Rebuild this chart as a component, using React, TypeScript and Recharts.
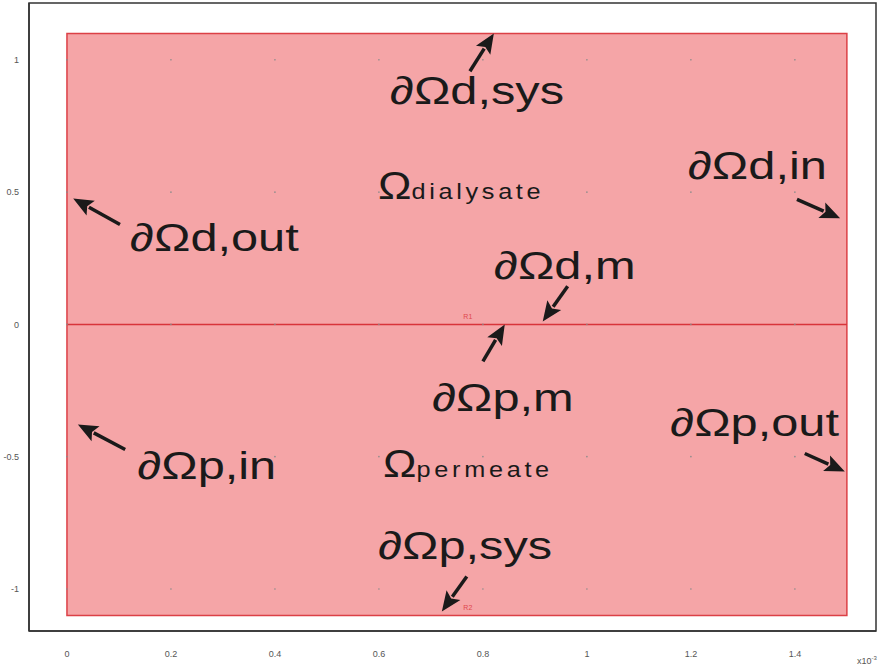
import {
  ScatterChart,
  Scatter,
  XAxis,
  YAxis,
  ReferenceArea,
  ReferenceLine
} from "recharts";

// axis ticks (x in units of 1e-3)
const xTicks = [0, 0.2, 0.4, 0.6, 0.8, 1, 1.2, 1.4];
const yTicks = [-1, -0.5, 0, 0.5, 1];
const xDomain = [-0.073, 1.556];
const yDomain = [-1.159, 1.215];

// geometry: two rectangles R1 (dialysate) and R2 (permeate), split by the membrane at y = 0
const rectX = [0, 1.5];
const rectY = [-1.1, 1.1];
const membraneY = 0;

// boundary labels
const boundaryNames = ["∂Ωd,sys", "∂Ωd,in", "∂Ωd,out", "∂Ωd,m", "∂Ωp,m", "∂Ωp,out", "∂Ωp,in", "∂Ωp,sys"];
const boundaryX = [0.621, 1.194, 0.121, 0.821, 0.702, 1.16, 0.135, 0.598];
const boundaryY = [0.832, 0.548, 0.276, 0.17, -0.329, -0.423, -0.586, -0.888];

// arrows, tail -> head, same order as the labels
const arrowTailX = [0.775, 1.404, 0.102, 0.963, 0.8, 1.419, 0.112, 0.769];
const arrowTailY = [0.957, 0.473, 0.378, 0.144, -0.14, -0.488, -0.473, -0.953];
const arrowHeadX = [0.821, 1.487, 0.012, 0.915, 0.842, 1.496, 0.021, 0.721];
const arrowHeadY = [1.1, 0.401, 0.476, 0.011, 0.0, -0.556, -0.378, -1.085];

// domain labels
const domainNames = ["dialysate", "permeate"];
const domainX = [0.598, 0.608];
const domainY = [0.473, -0.575];

// region tags
const regionTags = ["R1", "R2"];
const regionTagX = [0.771, 0.771];
const regionTagY = [0.019, -1.081];

const labelData = boundaryNames.map((name, i) => ({ x: boundaryX[i], y: boundaryY[i], name }));
const domainData = domainNames.map((name, i) => ({ x: domainX[i], y: domainY[i], name }));
const tagData = regionTags.map((name, i) => ({ x: regionTagX[i], y: regionTagY[i], name }));
const gridDots = xTicks.flatMap((x) => yTicks.map((y) => ({ x, y })));

const FONT = "'Liberation Sans', Arial, sans-serif";

const BoundaryLabel = (p: any) => (
  <text
    transform={`translate(${p.cx},${p.cy}) scale(1.25,1)`}
    fontSize={39}
    fontFamily={FONT}
    fill="#1a1a1a"
  >
    {p.payload.name}
  </text>
);

const DomainLabel = (p: any) => (
  <text
    transform={`translate(${p.cx},${p.cy}) scale(1.15,1)`}
    fontFamily={FONT}
    fill="#1a1a1a"
  >
    <tspan fontSize={39}>Ω</tspan>
    <tspan fontSize={22} letterSpacing={3.2}>{p.payload.name}</tspan>
  </text>
);

const TagLabel = (p: any) => (
  <text x={p.cx} y={p.cy} fontSize={7} fontFamily={FONT} fill="#e0474c" textAnchor="middle">
    {p.payload.name}
  </text>
);

const GridDot = (p: any) => <circle cx={p.cx} cy={p.cy} r={0.8} fill="#8a8a8a" />;

const Arrow = (p: any) => {
  const { x1, y1, x2, y2 } = p;
  const dx = x2 - x1;
  const dy = y2 - y1;
  const len = Math.sqrt(dx * dx + dy * dy);
  const ux = dx / len;
  const uy = dy / len;
  const hl = 20;
  const hw = 8.5;
  const bx = x2 - ux * hl;
  const by = y2 - uy * hl;
  return (
    <g>
      <line x1={x1} y1={y1} x2={bx + ux * 2} y2={by + uy * 2} stroke="#1a1a1a" strokeWidth={3.5} />
      <polygon
        points={`${x2},${y2} ${bx - uy * hw},${by + ux * hw} ${bx + ux * 4},${by + uy * 4} ${bx + uy * hw},${by - ux * hw}`}
        fill="#1a1a1a"
      />
    </g>
  );
};

const tickStyle = { fontSize: 9, fill: "#555", fontFamily: FONT };

export default function App() {
  return (
    <div style={{ position: "absolute", left: 0, top: 0, width: 879, height: 670, background: "#fff" }}>
      <ScatterChart width={879} height={670} margin={{ top: 3, right: 3, left: 5, bottom: 9 }}>
        <XAxis
          type="number"
          dataKey="x"
          domain={xDomain}
          allowDataOverflow
          ticks={xTicks}
          height={30}
          tickLine={false}
          tickMargin={14}
          tick={tickStyle}
          axisLine={{ stroke: "#333", strokeWidth: 1.5 }}
        />
        <YAxis
          type="number"
          dataKey="y"
          domain={yDomain}
          allowDataOverflow
          ticks={yTicks}
          width={24}
          tickLine={false}
          tickMargin={4}
          tick={tickStyle}
          axisLine={{ stroke: "#333", strokeWidth: 1.5 }}
        />

        {/* plot frame */}
        <ReferenceArea
          x1={xDomain[0]}
          x2={xDomain[1]}
          y1={yDomain[0]}
          y2={yDomain[1]}
          fill="none"
          stroke="#333"
          strokeWidth={1.5}
        />

        <ReferenceArea
          x1={rectX[0]}
          x2={rectX[1]}
          y1={rectY[0]}
          y2={rectY[1]}
          fill="#f5a5a7"
          fillOpacity={1}
          stroke="#dc4046"
          strokeWidth={1.5}
        />
        <ReferenceLine
          segment={[
            { x: rectX[0], y: membraneY },
            { x: rectX[1], y: membraneY }
          ]}
          stroke="#d8343a"
          strokeWidth={1.5}
        />

        <Scatter data={gridDots} shape={GridDot} isAnimationActive={false} />
        <Scatter data={tagData} shape={TagLabel} isAnimationActive={false} />

        {arrowTailX.map((tx, i) => (
          <ReferenceLine
            key={i}
            segment={[
              { x: tx, y: arrowTailY[i] },
              { x: arrowHeadX[i], y: arrowHeadY[i] }
            ]}
            shape={Arrow}
          />
        ))}

        <Scatter data={labelData} shape={BoundaryLabel} isAnimationActive={false} />
        <Scatter data={domainData} shape={DomainLabel} isAnimationActive={false} />
      </ScatterChart>
      <div
        style={{
          position: "absolute",
          left: 857,
          top: 655,
          fontSize: 9,
          color: "#555",
          fontFamily: FONT
        }}
      >
        x10<sup style={{ fontSize: 6 }}>-3</sup>
      </div>
    </div>
  );
}
